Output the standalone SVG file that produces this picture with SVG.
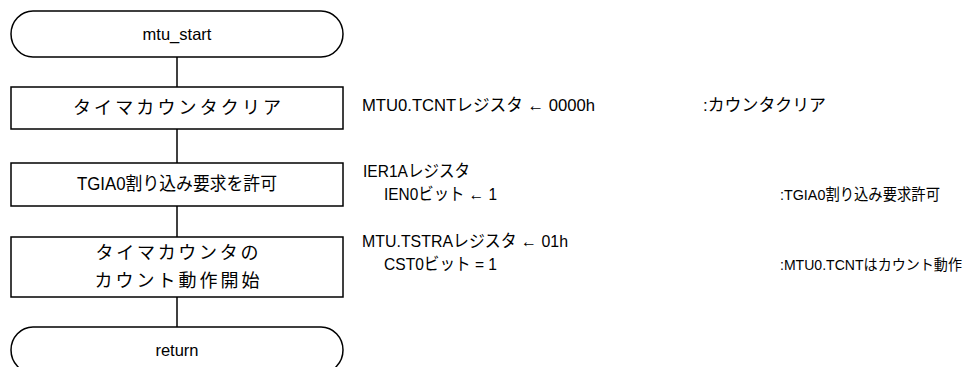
<svg xmlns="http://www.w3.org/2000/svg" width="966" height="367" viewBox="0 0 966 367">
<style>
.shape{fill:#fff;stroke:#000;stroke-width:1.5}
.line{stroke:#000;stroke-width:1.5;fill:none}
text{font-family:"Liberation Sans","Noto Sans CJK JP",sans-serif;fill:#000}
.c{font-size:18px;text-anchor:middle}
.t{font-size:16.5px;text-anchor:middle}
.r{font-size:17px}
.n{font-size:15.5px}
.m{font-size:14.3px}
</style>
<rect width="966" height="367" fill="#fff"/>
<g id="connectors">
<line class="line" x1="177" y1="57" x2="177" y2="87"/>
<line class="line" x1="177" y1="129" x2="177" y2="163"/>
<line class="line" x1="177" y1="206" x2="177" y2="237"/>
<line class="line" x1="177" y1="297" x2="177" y2="327"/>
</g>
<g id="start">
<rect class="shape" x="11" y="11" width="332" height="46" rx="22" ry="23"/>
<text class="t" x="177" y="40">mtu_start</text>
</g>
<g id="clear">
<rect class="shape" x="11" y="87" width="332" height="42"/>
<text class="c" x="177" y="114" textLength="208" lengthAdjust="spacing">タイマカウンタクリア</text>
</g>
<g id="enable">
<rect class="shape" x="11" y="163" width="332" height="43"/>
<text class="c" x="177" y="190" textLength="200" lengthAdjust="spacingAndGlyphs">TGIA0割り込み要求を許可</text>
</g>
<g id="startcount">
<rect class="shape" x="11" y="237" width="332" height="60"/>
<text class="c" x="177" y="259" textLength="163" lengthAdjust="spacing">タイマカウンタの</text>
<text class="c" x="177" y="287" textLength="165" lengthAdjust="spacing">カウント動作開始</text>
</g>
<g id="return">
<rect class="shape" x="11" y="327" width="332" height="46" rx="22" ry="23"/>
<text class="t" x="177" y="356">return</text>
</g>
<g id="notes">
<text class="r" x="362" y="111" textLength="233" lengthAdjust="spacingAndGlyphs">MTU0.TCNTレジスタ ← 0000h</text>
<text class="r" x="703" y="111" textLength="123" lengthAdjust="spacingAndGlyphs">:カウンタクリア</text>
<text class="r" x="363" y="177" textLength="107" lengthAdjust="spacingAndGlyphs">IER1Aレジスタ</text>
<text class="r" x="384" y="200" textLength="113" lengthAdjust="spacingAndGlyphs">IEN0ビット ← 1</text>
<text class="n" x="780" y="200" textLength="160" lengthAdjust="spacingAndGlyphs">:TGIA0割り込み要求許可</text>
<text class="r" x="362" y="247" textLength="206" lengthAdjust="spacingAndGlyphs">MTU.TSTRAレジスタ ← 01h</text>
<text class="r" x="384" y="270" textLength="113" lengthAdjust="spacingAndGlyphs">CST0ビット = 1</text>
<text class="m" x="780" y="270" textLength="182" lengthAdjust="spacingAndGlyphs">:MTU0.TCNTはカウント動作</text>
</g>
</svg>
